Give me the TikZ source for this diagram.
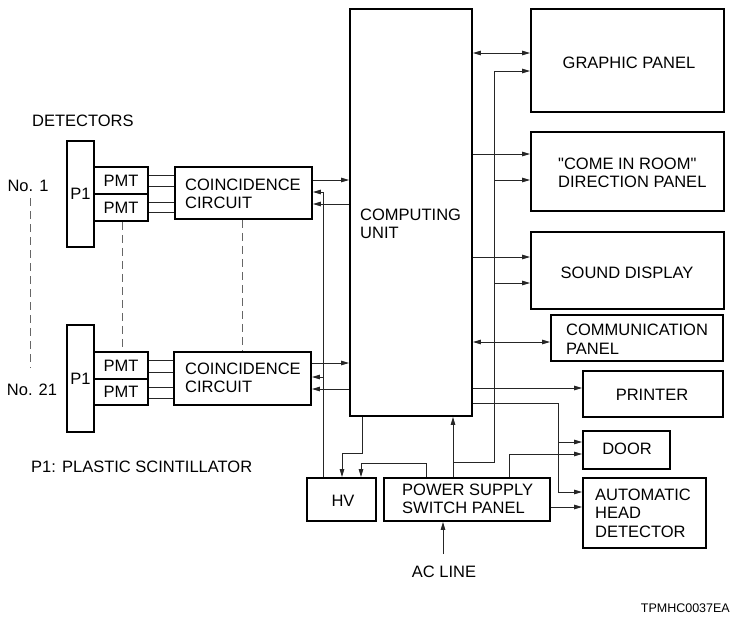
\documentclass[tikz,border=0pt]{standalone}
\usepackage{fontspec}
\setmainfont{Liberation Sans}[Ligatures=TeXOff]
\usetikzlibrary{arrows.meta,fit}
\newcommand\mainfs{\fontsize{16.5}{18.5}\selectfont}
\newcommand\smallfs{\fontsize{12.5}{14}\selectfont}
\begin{document}
\begin{tikzpicture}[x=1pt,y=-1pt,
  box/.style={draw, line width=1.8pt, inner sep=0pt, font=\mainfs},
  conn/.style={line width=0.9pt, draw=black!85},
  arr/.style={conn, -{Triangle[length=8pt,width=4.5pt]}},
  darr/.style={conn, {Triangle[length=8pt,width=4.5pt]}-{Triangle[length=8pt,width=4.5pt]}},
  dsh/.style={line width=0.9pt, draw=black!60, dash pattern=on 8pt off 5pt},
  lbl/.style={inner sep=0pt, font=\mainfs, align=left}]
\useasboundingbox (0,0) rectangle (745,622);
% boxes
\node[box, fit={(67,141) (94,247)}] (P1a) {};
\node[box, fit={(94,167) (148,194)}] (PMTa1) {};
\node[box, fit={(94,194) (148,221)}] (PMTa2) {};
\node[box, fit={(175,167) (312,219)}] (COa) {};
\node[box, fit={(67,325) (94,432)}] (P1b) {};
\node[box, fit={(94,352) (148,379)}] (PMTb1) {};
\node[box, fit={(94,379) (148,405)}] (PMTb2) {};
\node[box, fit={(174,352) (311,405)}] (COb) {};
\node[box, fit={(350,9) (472,416)}] (CU) {};
\node[box, fit={(531,9) (724,112)}] (GP) {};
\node[box, fit={(531,132) (724,211)}] (CRP) {};
\node[box, fit={(531,232) (724,309)}] (SD) {};
\node[box, fit={(551,315) (723,361)}] (COMM) {};
\node[box, fit={(583,371) (723,417)}] (PR) {};
\node[box, fit={(583,431) (670,469)}] (DOOR) {};
\node[box, fit={(583,478) (706,548)}] (AHD) {};
\node[box, fit={(384,478) (550,521)}] (PS) {};
\node[box, fit={(307,478) (376,521)}] (HV) {};
% texts
\node[lbl, anchor=west] (tdet) at (32,121) {DETECTORS};
\node[lbl] (tno1) at (28,186) {No. 1};
\node[lbl] (tno21) at (32,390) {No. 21};
\node[lbl] (tp1a) at (P1a.center) {P1};
\node[lbl] (tp1b) at (P1b.center) {P1};
\node[lbl] (tpa1) at (PMTa1.center) {PMT};
\node[lbl] (tpa2) at (PMTa2.center) {PMT};
\node[lbl] (tpb1) at (PMTb1.center) {PMT};
\node[lbl] (tpb2) at (PMTb2.center) {PMT};
\node[lbl, anchor=west] (tcoa) at (185,194) {COINCIDENCE\\CIRCUIT};
\node[lbl, anchor=west] (tcob) at (185,378) {COINCIDENCE\\CIRCUIT};
\node[lbl, anchor=west] (tcu) at (360,224) {COMPUTING\\UNIT};
\node[lbl] (tgp) at (629,63) {GRAPHIC PANEL};
\node[lbl, anchor=west] (tcrp) at (558,173) {"COME IN ROOM"\\DIRECTION PANEL};
\node[lbl] (tsd) at (627,273) {SOUND DISPLAY};
\node[lbl, anchor=west] (tcomm) at (566,339) {COMMUNICATION\\PANEL};
\node[lbl] (tpr) at (652,395) {PRINTER};
\node[lbl] (tdoor) at (627,449) {DOOR};
\node[lbl, anchor=west] (tahd) at (595,513) {AUTOMATIC\\HEAD\\DETECTOR};
\node[lbl, anchor=west] (tps) at (402,499) {POWER SUPPLY\\SWITCH PANEL};
\node[lbl] (thv) at (343,501) {HV};
\node[lbl] (tac) at (444,572) {AC LINE};
\node[lbl, anchor=west] (tsc) at (31,467) {P1: PLASTIC SCINTILLATOR};
\node[inner sep=0pt, font=\smallfs, anchor=east] (tcode) at (730,608) {TPMHC0037EA};
% PMT to coincidence
\foreach \yy in {175,186,202,212} \draw[conn] (PMTa1.east |- 0,\yy) -- (COa.west |- 0,\yy);
\foreach \yy in {360,372,387,398} \draw[conn] (PMTb1.east |- 0,\yy) -- (COb.west |- 0,\yy);
% dashed
\draw[dsh] (30,198) -- (30,368);
\draw[dsh] (PMTa2.south -| 122,0) -- (PMTb1.north -| 122,0);
\draw[dsh] (COa.south -| 242,0) -- (COb.north -| 242,0);
% coincidence <-> CU
\draw[arr] (COa.east |- 0,180) -- (CU.west |- 0,180);
\draw[arr] (CU.west |- 0,204) -- (COa.east |- 0,204);
\draw[arr] (COb.east |- 0,363) -- (CU.west |- 0,363);
\draw[arr] (CU.west |- 0,389) -- (COb.east |- 0,389);
% HV feed
\draw[arr] (HV.north -| 323,0) -- (323,192) -- (COa.east |- 0,192);
\draw[arr] (323,377) -- (COb.east |- 0,377);
% CU to right panels
\draw[darr] (CU.east |- 0,53) -- (GP.west |- 0,53);
\draw[arr] (CU.east |- 0,154) -- (CRP.west |- 0,154);
\draw[arr] (CU.east |- 0,257) -- (SD.west |- 0,257);
\draw[darr] (CU.east |- 0,342) -- (COMM.west |- 0,342);
\draw[arr] (CU.east |- 0,388) -- (PR.west |- 0,388);
\draw[arr] (CU.east |- 0,403) -- (558,403) -- (558,492) -- (AHD.west |- 0,492);
\draw[arr] (558,442) -- (DOOR.west |- 0,442);
% power supply
\draw[arr] (PS.north -| 453,0) -- (CU.south -| 453,0);
\draw[conn] (453,462) -- (494,462) -- (494,71);
\draw[arr] (494,71) -- (GP.west |- 0,71);
\draw[arr] (494,180) -- (CRP.west |- 0,180);
\draw[arr] (494,283) -- (SD.west |- 0,283);
\draw[arr] (PS.north -| 509,0) -- (509,454) -- (DOOR.west |- 0,454);
\draw[arr] (PS.east |- 0,507) -- (AHD.west |- 0,507);
\draw[arr] (PS.north -| 426,0) -- (426,463) -- (361,463) -- (HV.north -| 361,0);
\draw[arr] (CU.south -| 362,0) -- (362,453) -- (342,453) -- (HV.north -| 342,0);
\draw[arr] (443,554) -- (PS.south -| 443,0);
\end{tikzpicture}
\end{document}
